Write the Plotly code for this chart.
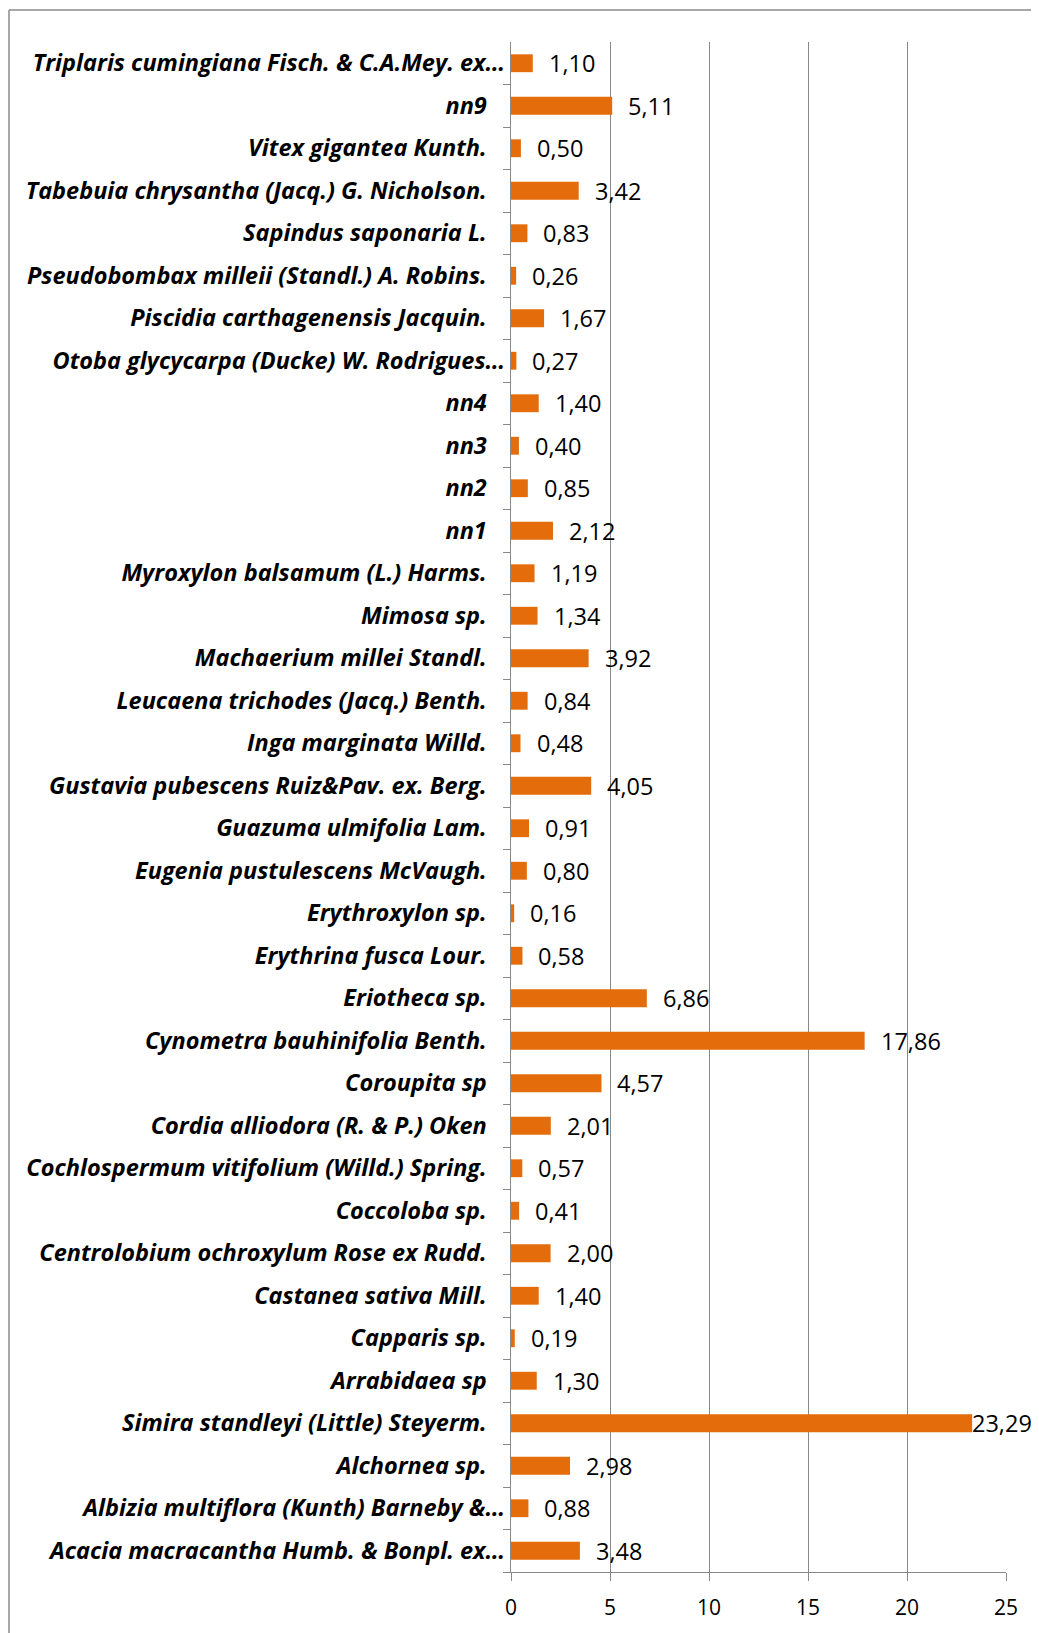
import plotly.graph_objects as go

# Categories listed top to bottom as in the reference
species = [
    "Triplaris cumingiana Fisch. & C.A.Mey. ex…",
    "nn9",
    "Vitex gigantea Kunth.",
    "Tabebuia chrysantha (Jacq.) G. Nicholson.",
    "Sapindus saponaria L.",
    "Pseudobombax milleii (Standl.) A. Robins.",
    "Piscidia carthagenensis Jacquin.",
    "Otoba glycycarpa (Ducke) W. Rodrigues…",
    "nn4",
    "nn3",
    "nn2",
    "nn1",
    "Myroxylon balsamum (L.) Harms.",
    "Mimosa sp.",
    "Machaerium millei Standl.",
    "Leucaena trichodes (Jacq.) Benth.",
    "Inga marginata Willd.",
    "Gustavia pubescens Ruiz&Pav. ex. Berg.",
    "Guazuma ulmifolia Lam.",
    "Eugenia pustulescens McVaugh.",
    "Erythroxylon sp.",
    "Erythrina fusca Lour.",
    "Eriotheca sp.",
    "Cynometra bauhinifolia Benth.",
    "Coroupita sp",
    "Cordia alliodora (R. & P.) Oken",
    "Cochlospermum vitifolium (Willd.) Spring.",
    "Coccoloba sp.",
    "Centrolobium ochroxylum Rose ex Rudd.",
    "Castanea sativa Mill.",
    "Capparis sp.",
    "Arrabidaea sp",
    "Simira standleyi (Little) Steyerm.",
    "Alchornea sp.",
    "Albizia multiflora (Kunth) Barneby &…",
    "Acacia macracantha Humb. & Bonpl. ex…",
]
values = [
    1.10, 5.11, 0.50, 3.42, 0.83, 0.26, 1.67, 0.27, 1.40, 0.40, 0.85, 2.12,
    1.19, 1.34, 3.92, 0.84, 0.48, 4.05, 0.91, 0.80, 0.16, 0.58, 6.86, 17.86,
    4.57, 2.01, 0.57, 0.41, 2.00, 1.40, 0.19, 1.30, 23.29, 2.98, 0.88, 3.48,
]
x_ticks = [0, 5, 10, 15, 20, 25]
x_max = 25

# the page body adds an 8px margin, so the figure is sized to fit the window
W, H = 1031, 1625
ML, MR, MT, MB = 503, 33, 34, 59
GRAY = "#888888"
ORANGE = "#E46C0A"
FONT = "Open Sans"

# non-truncated labels carry a trailing blank as in the source chart
tick_text = [s if s.endswith("…") else s + "\u00a0\u00a0\u00a0" for s in species]
cat_order = list(reversed(species))

fig = go.Figure()
fig.add_trace(go.Bar(
    x=values, y=species, orientation="h",
    marker=dict(color=ORANGE, line=dict(width=0)),
    width=0.42, hoverinfo="skip",
))

# labels sit just right of bar ends; near the right edge they are pulled in to stay inside
annotations = [
    dict(x=v, y=s, xref="x", yref="y", text=f"{v:.2f}".replace(".", ","),
         showarrow=False, xanchor="left", yanchor="middle", borderpad=0,
         xshift=15 if v < 0.88 * x_max else -1,
         font=dict(family=FONT, size=23.5, color="black"))
    for s, v in zip(species, values)
]

plot_w = W - ML - MR
plot_h = H - MT - MB
bx = (1 - ML) / plot_w
by = (H - MB - 2) / plot_h
shapes = [
    dict(type="line", xref="paper", yref="paper", x0=bx, x1=1.2, y0=by, y1=by,
         line=dict(color="#8a8a8a", width=1.5)),
    dict(type="line", xref="paper", yref="paper", x0=bx, x1=bx, y0=by, y1=-0.2,
         line=dict(color="#8a8a8a", width=1.5)),
]

fig.update_layout(
    width=W, height=H,
    margin=dict(l=ML, r=MR, t=MT, b=MB, pad=0),
    paper_bgcolor="white", plot_bgcolor="white",
    showlegend=False,
    annotations=annotations,
    shapes=shapes,
    xaxis=dict(
        range=[0, x_max], tickvals=x_ticks, ticktext=[str(t) for t in x_ticks],
        showgrid=True, gridcolor=GRAY, gridwidth=1.4,
        zeroline=False, showline=True, linecolor=GRAY, linewidth=1.4,
        ticks="outside", ticklen=8, tickcolor=GRAY, tickwidth=1.4,
        ticklabelstandoff=9,
        tickfont=dict(family=FONT, size=21, color="black"),
        fixedrange=True,
    ),
    yaxis=dict(
        type="category", categoryorder="array", categoryarray=cat_order,
        tickvals=species, ticktext=tick_text,
        showgrid=False, zeroline=False, showline=True, linecolor=GRAY, linewidth=1.4,
        ticks="outside", ticklen=7, tickcolor=GRAY, tickwidth=1.4,
        tickson="boundaries",
        tickfont=dict(family=FONT, size=23.5, color="black", weight="bold", style="italic"),
        fixedrange=True,
    ),
)

fig.write_html("out.html")
